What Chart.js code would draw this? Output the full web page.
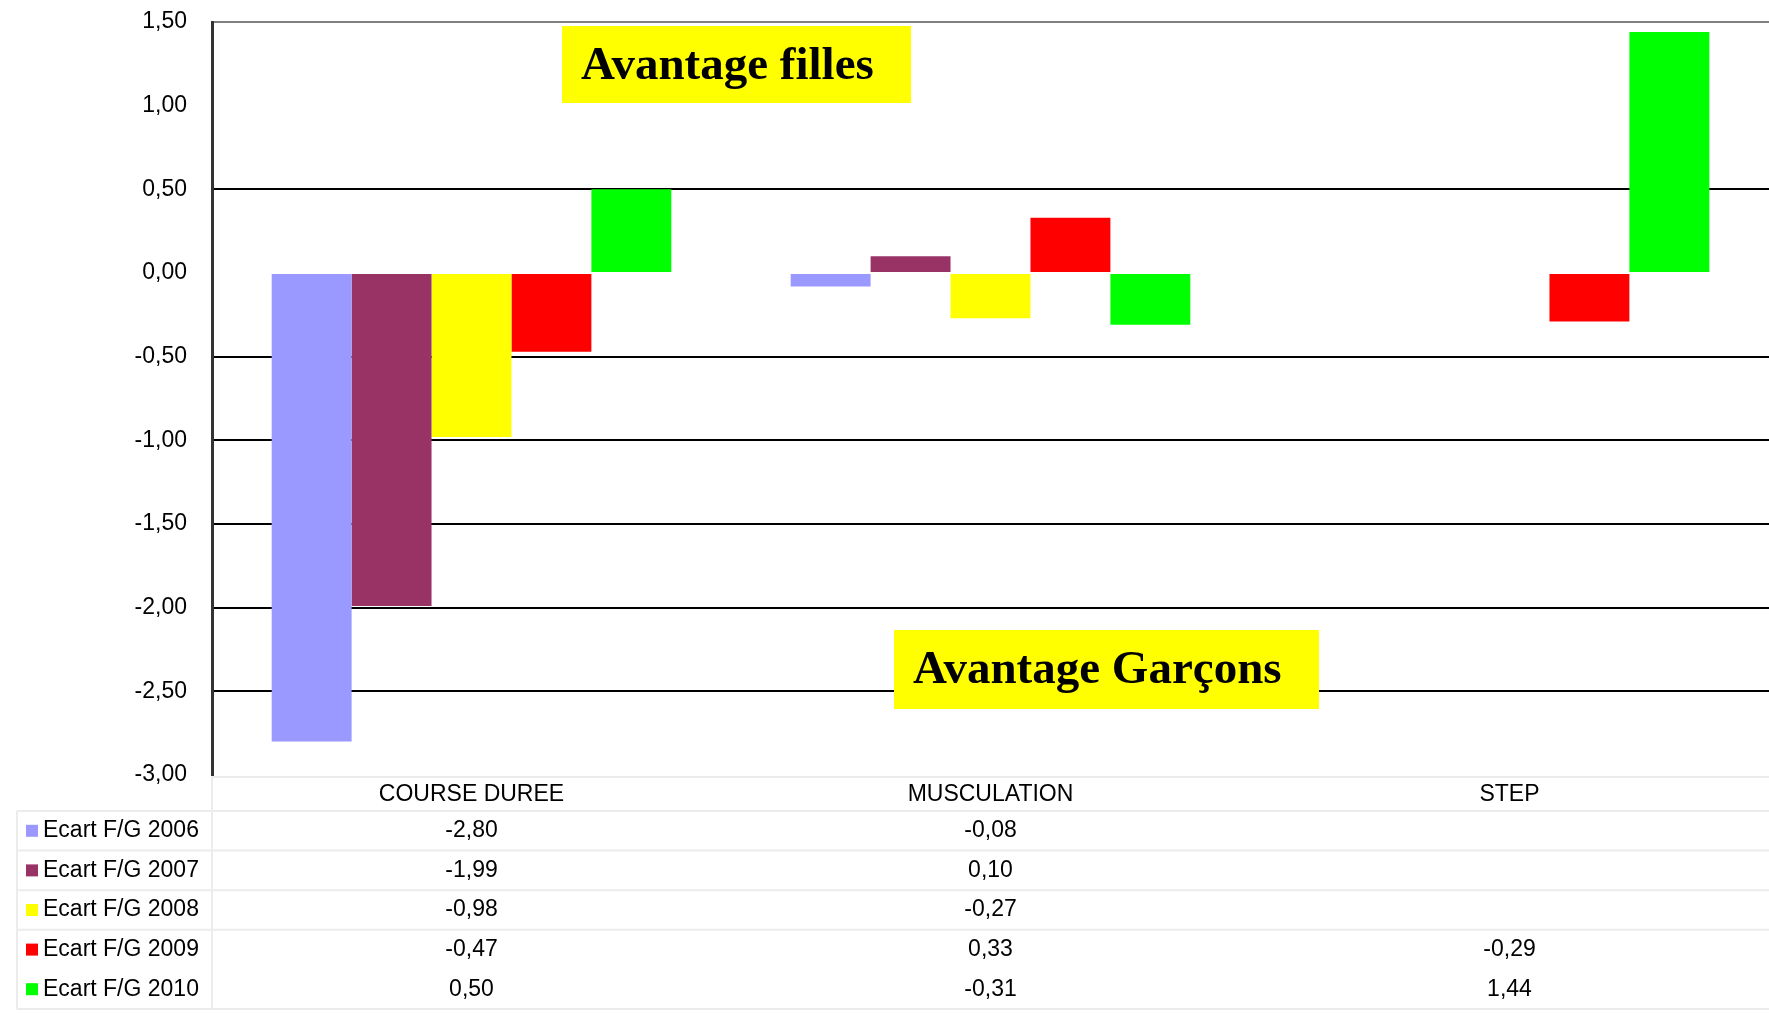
<!DOCTYPE html>
<html lang="fr">
<head>
  <meta charset="UTF-8" />
  <title>Ecart F/G</title>
  <script src="https://cdn.jsdelivr.net/npm/chart.js"></script>
  <style>
    html, body { margin: 0; padding: 0; background: #fff; }
    #graficoEcart { display: block; }
  </style>
</head>
<body>
<canvas id="graficoEcart" width="1769" height="1013"></canvas>

<script>
// Données
const categories = ['COURSE DUREE', 'MUSCULATION', 'STEP'];
const seriesLabels = ['Ecart F/G 2006', 'Ecart F/G 2007', 'Ecart F/G 2008', 'Ecart F/G 2009', 'Ecart F/G 2010'];
const seriesColors = ['#9999FF', '#993366', '#FFFF00', '#FF0000', '#00FF00'];
const ecart2006 = [-2.80, -0.08, null];
const ecart2007 = [-1.99, 0.10, null];
const ecart2008 = [-0.98, -0.27, null];
const ecart2009 = [-0.47, 0.33, -0.29];
const ecart2010 = [0.50, -0.31, 1.44];
const yMin = -3, yMax = 1.5, yStep = 0.5;
const annotations = ['Avantage filles', 'Avantage Garçons'];

const series = [ecart2006, ecart2007, ecart2008, ecart2009, ecart2010];
const fmt = v => v.toFixed(2).replace('.', ',');
const FONT = '23px "Liberation Sans", Arial, sans-serif';

// cadres jaunes + tableau de données sous le graphique
const extras = {
  id: 'extras',
  afterDatasetsDraw(chart) {
    const { ctx, chartArea: a } = chart;
    const boxes = [
      { text: annotations[0], x: a.left + 350, y: a.top + 4, w: 349, h: 77 },
      { text: annotations[1], x: a.left + 682, y: a.top + 608, w: 425, h: 79 }
    ];
    ctx.save();
    boxes.forEach(b => {
      ctx.fillStyle = '#FFFF00';
      ctx.fillRect(b.x, b.y, b.w, b.h);
      ctx.fillStyle = '#000';
      ctx.font = 'bold 47px "Liberation Serif", "Times New Roman", serif';
      ctx.textBaseline = 'alphabetic';
      ctx.textAlign = 'left';
      ctx.fillText(b.text, b.x + 19, b.y + 53);
    });
    ctx.restore();
  },
  afterDraw(chart) {
    const { ctx, chartArea: a, scales: { x } } = chart;
    const top = a.bottom + 2;
    const headH = 34;
    const rowH = 39.6;
    const legLeft = 17;
    ctx.save();
    // lignes
    ctx.strokeStyle = '#ececec';
    ctx.lineWidth = 2;
    ctx.beginPath();
    ctx.moveTo(a.left, top); ctx.lineTo(a.right, top);
    [0, 1, 2, 3, 5].forEach(i => {
      const yy = top + headH + i * rowH;
      ctx.moveTo(legLeft, yy); ctx.lineTo(a.right, yy);
    });
    ctx.moveTo(a.left, top); ctx.lineTo(a.left, top + headH + 5 * rowH);
    ctx.moveTo(legLeft, top + headH); ctx.lineTo(legLeft, top + headH + 5 * rowH);
    ctx.stroke();

    ctx.font = FONT;
    ctx.fillStyle = '#000';
    ctx.textBaseline = 'middle';
    ctx.textAlign = 'center';
    categories.forEach((c, i) => {
      ctx.fillText(c, x.getPixelForValue(i), top + headH / 2 + 1);
    });
    series.forEach((s, r) => {
      const cy = top + headH + r * rowH + rowH / 2;
      ctx.fillStyle = seriesColors[r];
      ctx.fillRect(26, cy - 6, 12, 12);
      ctx.fillStyle = '#000';
      ctx.textAlign = 'left';
      ctx.fillText(seriesLabels[r], 43, cy);
      ctx.textAlign = 'center';
      s.forEach((v, i) => {
        if (v !== null) ctx.fillText(fmt(v), x.getPixelForValue(i), cy);
      });
    });
    ctx.restore();
  }
};

new Chart(document.getElementById('graficoEcart'), {
  type: 'bar',
  data: {
    labels: categories,
    datasets: series.map((s, i) => ({
      label: seriesLabels[i],
      data: s,
      backgroundColor: seriesColors[i],
      borderWidth: 0,
      barPercentage: 1,
      categoryPercentage: 0.77
    }))
  },
  options: {
    responsive: false,
    animation: false,
    layout: { padding: { left: 0, right: 0, top: 22, bottom: 238 } },
    plugins: { legend: { display: false }, tooltip: { enabled: false } },
    scales: {
      x: {
        grid: { display: false },
        border: { display: false },
        ticks: { display: false },
        afterFit: s => { s.height = 0; }
      },
      y: {
        min: yMin,
        max: yMax,
        afterFit: s => { s.width = 212; s.paddingTop = 0; s.paddingBottom = 0; },
        border: { color: '#333', width: 3 },
        grid: {
          drawTicks: false,
          lineWidth: 2,
          color: c => {
            const v = c.tick.value;
            if (v === yMax) return '#808080';
            if (v === 1 || v === 0 || v === yMin) return 'rgba(0,0,0,0)';
            return '#000';
          }
        },
        ticks: {
          stepSize: yStep,
          padding: 25,
          color: '#000',
          font: { family: '"Liberation Sans", Arial, sans-serif', size: 23 },
          callback: v => fmt(v)
        }
      }
    }
  },
  plugins: [extras]
});
</script>
</body>
</html>
